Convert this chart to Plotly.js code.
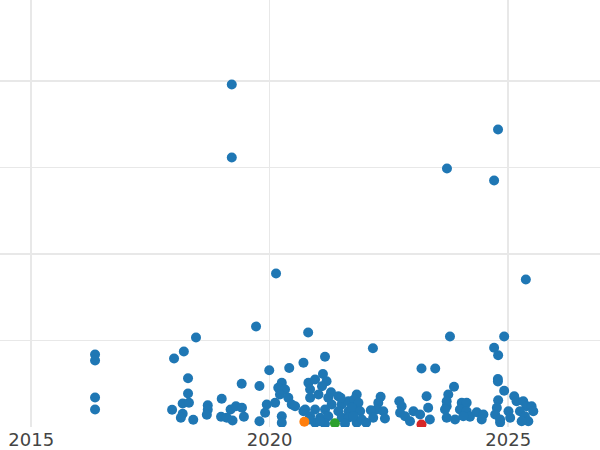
<!DOCTYPE html>
<html>
<head>
<meta charset="utf-8">
<script src="https://cdn.plot.ly/plotly-3.0.1.min.js"></script>
<style>html,body{margin:0;padding:0;background:#fff}#chart{width:600px;height:450px}</style>
</head>
<body>
<div id="chart"></div>
<script>
const mainDates = [
"2016-05-04","2016-05-04","2016-05-04","2016-05-04","2019-03-17","2019-03-17","2020-02-19","2024-10-15","2023-09-20","2024-09-15",
"2025-05-16","2018-06-16","2019-09-19","2020-10-22","2023-10-13","2024-12-01","2018-03-15","2022-03-02","2024-09-15","2017-12-30",
"2021-02-28","2024-10-16","2020-09-16","2020-05-30","2019-12-29","2023-03-09","2023-06-22","2018-04-16","2019-06-01","2019-10-15",
"2018-04-16","2018-03-06","2018-04-23","2018-12-30","2017-12-15","2018-03-06","2018-02-20","2018-05-26","2018-09-14","2018-09-14",
"2018-09-07","2018-12-25","2019-02-07","2019-03-08","2019-04-18","2019-06-03","2019-03-23","2019-06-18","2019-10-15","2020-04-03",
"2020-03-07","2020-04-28","2020-03-20","2020-05-23","2020-02-12","2019-12-10","2020-06-18","2019-11-27","2020-04-03","2020-04-03",
"2020-09-16","2021-02-12","2020-10-24","2020-12-14","2021-03-12","2021-02-05","2020-11-06","2021-01-09","2021-03-25","2021-06-10",
"2021-10-29","2020-11-06","2021-04-20","2021-07-06","2021-08-26","2020-09-29","2020-12-14","2021-02-28","2021-06-10","2021-08-26",
"2021-10-29","2020-11-06","2021-01-22","2021-03-25","2021-07-06","2021-08-26","2020-12-14","2021-02-28","2021-07-31","2021-10-29",
"2020-07-14","2021-04-15","2021-06-28","2021-10-09","2021-11-11","2021-09-21","2021-11-24","2021-10-03","2021-12-07","2022-04-30",
"2022-04-12","2022-03-30","2022-02-14","2022-03-04","2022-05-20","2022-06-02","2022-09-20","2022-10-08","2022-09-26","2022-11-03",
"2022-12-11","2023-01-06","2023-02-26","2023-04-17","2023-04-29","2023-05-12","2023-09-30","2023-09-18","2023-09-18","2022-01-09",
"2023-11-13","2024-10-14","2024-10-14","2024-12-01","2023-09-18","2023-09-05","2023-11-21","2024-01-11","2024-02-18","2023-12-28",
"2024-02-18","2024-03-14","2024-01-23","2024-05-05","2024-06-25","2024-06-12","2024-10-16","2024-10-06","2024-09-23","2024-10-31",
"2025-01-03","2025-01-16","2025-02-16","2025-03-06","2025-04-26","2025-05-22","2025-06-29","2025-04-01","2025-05-09","2025-06-04",
"2025-07-12","2025-04-14","2024-10-31","2020-10-28","2021-01-22"
];
const mainValues = [
16.76,15.37,6.82,4.05,79.19,62.31,35.49,68.78,59.77,56.99,
34.10,20.69,23.24,21.85,20.92,20.92,17.46,18.22,18.31,15.84,
16.23,16.60,14.84,13.64,13.13,13.53,13.53,11.28,9.99,9.48,
7.75,5.43,5.60,6.52,3.98,3.05,2.13,1.66,5.04,3.98,
2.82,2.36,2.13,4.05,4.81,4.44,1.50,2.36,1.34,10.22,
9.06,8.67,7.51,6.75,5.60,5.20,5.20,3.28,2.50,0.97,
3.65,12.25,10.22,10.98,10.59,9.43,8.67,7.51,6.75,7.12,
7.51,6.75,5.20,5.20,5.96,4.05,4.05,4.05,3.65,3.65,
4.44,2.50,2.13,2.50,2.13,2.13,0.97,0.74,0.74,0.97,
4.81,8.05,6.75,6.36,5.60,4.44,3.65,2.50,1.73,6.98,
5.60,4.05,3.88,2.13,3.65,1.97,5.96,4.81,3.28,2.50,
1.34,3.65,2.89,7.12,4.44,1.73,7.51,4.81,2.13,0.97,
9.29,11.10,10.52,8.37,5.96,4.05,1.73,5.60,5.60,4.05,
3.65,2.36,2.50,3.42,2.89,1.73,6.20,4.44,2.89,1.73,
3.65,2.13,7.12,5.96,5.96,4.81,4.81,3.65,2.50,1.34,
3.65,1.34,1.04,1.73,1.34
];
const orangeDates = ["2020-09-23"];
const orangeValues = [1.20];
const greenDates = ["2021-05-15"];
const greenValues = [0.88];
const redDates = ["2023-03-09"];
const redValues = [0.58];

const mk = (x, y, color) => ({
  type: "scatter", mode: "markers", x: x, y: y,
  marker: {color: color, size: 10, line: {width: 0}},
  showlegend: false, hoverinfo: "x+y"
});

const data = [
  mk(mainDates, mainValues, "#1f77b4"),
  mk(orangeDates, orangeValues, "#ff7f0e"),
  mk(greenDates, greenValues, "#2ca02c"),
  mk(redDates, redValues, "#d62728")
];

const layout = {
  width: 600, height: 450,
  margin: {l: 0, r: 0, t: 0, b: 23, pad: 0},
  paper_bgcolor: "#ffffff", plot_bgcolor: "#ffffff",
  font: {family: "DejaVu Sans, sans-serif", size: 18, color: "#444444"},
  showlegend: false,
  xaxis: {
    type: "date", range: ["2014-05-07", "2026-12-05"],
    tick0: "2015-01-01", dtick: "M60", tickformat: "%Y",
    showgrid: true, gridcolor: "#e8e8e8", gridwidth: 1.5,
    zeroline: false, showline: false, ticks: "", automargin: false,
    tickfont: {family: "DejaVu Sans, sans-serif", size: 18, color: "#444444"}
  },
  yaxis: {
    range: [0, 98.73], dtick: 20, tick0: 0,
    showgrid: true, gridcolor: "#e8e8e8", gridwidth: 1.5,
    zeroline: false, showline: false, showticklabels: false, ticks: "",
    automargin: false
  }
};

Plotly.newPlot("chart", data, layout, {displayModeBar: false, staticPlot: true});
</script>
</body>
</html>
